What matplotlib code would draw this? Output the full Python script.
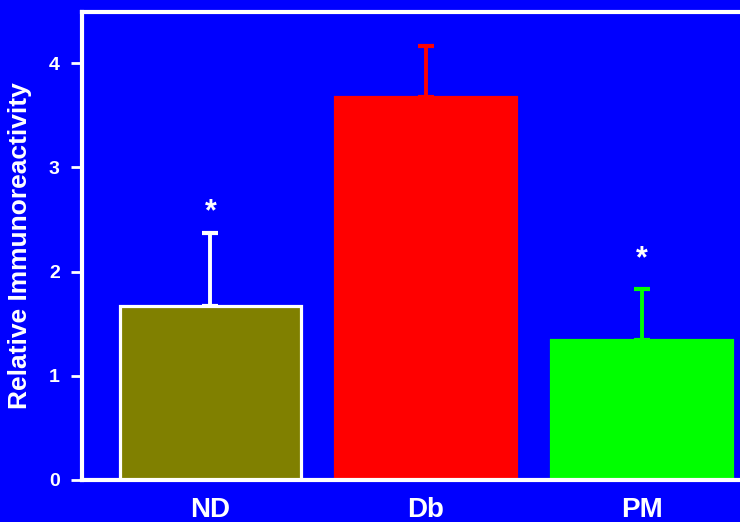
import matplotlib
matplotlib.use("Agg")
import matplotlib.pyplot as plt

# group means and upper error (SEM) for each condition
groups = ["ND", "Db", "PM"]
means = [1.67, 3.67, 1.34]
errors = [0.70, 0.49, 0.49]
bar_colors = ["#808000", "#FF0000", "#00FF00"]
edge_colors = ["white", "#FF0000", "#00FF00"]
err_colors = ["white", "#FF0000", "#00FF00"]
# significance markers (empty string = none)
stars = ["*", "", "*"]
star_y = [2.57, 0, 2.12]

BG = "#0000FF"

plt.rcParams["font.family"] = ["Liberation Sans", "DejaVu Sans"]
plt.rcParams["font.weight"] = "bold"

fig = plt.figure(figsize=(7.4, 5.22), dpi=100, facecolor=BG)
ax = fig.add_axes([0.1108, 0.0805, 0.8892, 0.8966], facecolor=BG)

x = range(len(groups))
for i in x:
    ax.bar(i, means[i], width=0.84, color=bar_colors[i],
           edgecolor=edge_colors[i], linewidth=2.3, zorder=2)
    ax.errorbar(i, means[i], yerr=[[0], [errors[i]]], fmt="none",
                ecolor=err_colors[i], elinewidth=2.8, capsize=6,
                capthick=3, zorder=1)
    if stars[i]:
        ax.text(i, star_y[i], stars[i], color="white", fontsize=22,
                ha="center", va="center")

ax.set_xlim(-0.596, 2.457)
ax.set_ylim(0, 4.49)
ax.set_xticks(list(x))
ax.set_xticklabels(groups, fontsize=20, fontweight="bold", color="white")
ax.tick_params(axis="x", length=0, pad=12)
ax.set_yticks([0, 1, 2, 3, 4])
ax.tick_params(axis="y", colors="white", labelsize=14, length=8, width=2,
               direction="out", pad=8)
for lab in ax.get_yticklabels():
    lab.set_fontweight("bold")

ax.set_ylabel("Relative Immunoreactivity", fontsize=19, fontweight="bold",
              color="white", labelpad=12)

for side in ["left", "top", "bottom"]:
    ax.spines[side].set_color("white")
    ax.spines[side].set_linewidth(3)
ax.spines["right"].set_visible(False)

fig.savefig("out.png", dpi=100, facecolor=BG)
